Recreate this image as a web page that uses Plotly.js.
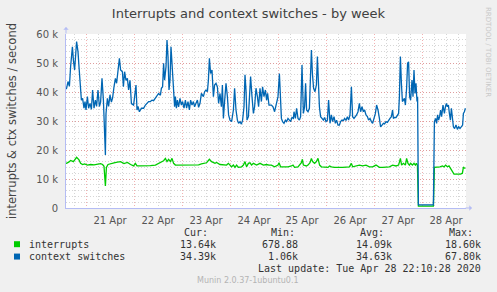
<!DOCTYPE html>
<html>
<head>
<meta charset="utf-8">
<script src="https://cdn.plot.ly/plotly-3.0.1.min.js"></script>
<style>
html,body{margin:0;padding:0;background:#F0F0F0;}
#chart{width:497px;height:292px;}
</style>
</head>
<body>
<div id="chart"></div>
<script>
// ---- DATA (hours since 2020-04-20 00:00, values in thousands per second) ----
const interruptsHours = [14.0,14.3,15.5,16.3,17.7,19.3,20.5,21.3,22.3,23.3,24.7,26.3,28,29.7,31.3,32.3,33,33.7,34.2,35,36.3,38,39.7,41.3,43,44.7,46.3,47.8,48.7,49.5,51.2,53.7,56.2,58.7,60.3,62,62.8,63.7,64.5,65.3,66.2,67,67.8,68.7,70.3,72,73.7,75.3,77,78.7,80.3,81.7,82.7,84.3,85.7,86.8,88.5,89.3,91,92.7,94.3,95.2,96.8,97.7,98.5,99.3,100.2,101.8,102.7,103.5,104.3,105.2,106,106.8,107.7,109.3,111,112.7,114.3,115.5,116.7,118.3,120,120.5,121.3,123.3,125,126.7,127.5,128.3,130,131.7,132.2,132.7,134.2,135,136,136.7,137.3,138.3,139.2,140,140.8,141.7,143.3,145,145.8,146.7,148.3,150,152.3,155.7,156.7,157.3,159,160.7,162.3,164,165.7,167.3,169,169.8,170.7,172.3,174,175.7,177.3,179,180.3,181.2,181.8,182.7,183.7,184.3,185,185.7,186.3,187.2,188,188.7,189.2,189.7,190.2,192,194,196,197.7,198.2,199.7,201,202.2,203,203.8,204.7,205.5,206.3,207.2,208,209.7,211.3,212.2,212.7,213.2,213.7];
const interruptsK = [15.5,15.4,15.9,16.4,16,17.5,16.6,15.4,15,15.2,14.8,15,14.9,15,15.3,15,14.4,7.6,14,15,15.3,15.6,15.8,16,15.3,15.7,15,14.5,15.4,14.5,14.5,14.5,14.6,14.8,15.4,16,16.3,17.1,16,16.8,16,17.1,15.4,14.8,14.8,15,14.8,14.8,15,14.8,14.9,15.2,15.4,15.6,16.8,16,15.4,15.7,15,14.8,14.8,15.4,14.2,14.8,14,14.8,14,14.2,14.8,16,14.2,15.4,15.6,14.8,15.4,14.8,15.4,14.8,15,14.8,14.8,14.2,14.8,15.6,14.2,14.2,14.2,14.5,14.8,14,14.2,15.6,16.8,14.8,14.5,14.8,15.6,17.1,16,15.4,16,17.1,14.8,14.2,14.2,14,14.5,14.2,14,13.9,14,14.2,15.4,14.2,14.5,14.8,14.5,14.8,14.2,14.2,14.8,14.5,14,14,14.2,14.2,14.8,14.5,14.8,17.1,14.8,15.4,14.8,17.1,15.4,14.8,15.4,14.8,15.4,14.8,15.4,14.8,0.68,0.68,0.68,0.68,0.68,14,14,14.2,14.5,14.2,14.8,14.2,14.5,13.7,12.5,11.7,11.7,11.7,12,14.1,13.8,13.6];

const ctxHours = [14.0,14.3,15,15.7,16.3,17.2,17.7,18.3,19.3,20,20.5,21,21.7,22.3,23,23.5,24,24.7,25.3,26,26.7,27.3,28,28.7,29.3,30,30.7,31.3,32,32.7,33.2,33.7,34,34.7,35.3,36,36.7,37.3,38,38.7,39.3,40,40.7,41.3,42.2,42.7,43.3,44,44.7,45.3,46,46.7,47.8,49,49.5,50,50.7,51.7,52.8,53.7,54.5,55.3,56.2,57,57.8,58.7,59.5,60.3,61.2,61.7,62.3,62.8,63.3,64,64.5,65,65.5,66,66.5,67,67.7,68.3,68.7,69.2,69.7,70.3,71,71.7,72.3,73,73.7,74.3,75,75.7,76.3,77,77.7,78.3,79,79.7,80.3,81,81.7,82.7,83.3,84,84.7,85.2,85.7,86.3,87,87.7,88.3,89,89.7,90.3,91,91.7,92.2,92.7,93.3,94,94.7,95.3,96,96.8,97.7,98.3,99,99.7,100.3,101,101.7,102.3,103,103.5,104,104.5,105.2,105.7,106.3,107,107.7,108.3,109,109.7,110.3,111,111.7,112.3,113,113.7,114.3,114.8,115.5,116.7,117.5,118.3,119.2,120,120.7,121.3,121.7,122.3,123,123.7,124.3,125,125.7,126.3,127,127.7,128,128.7,129.3,130,130.7,131.3,132,132.7,133.3,133.8,134.3,135,135.7,136.2,136.7,137.2,137.8,138.5,139.2,139.7,140.2,140.7,141.3,142,142.7,143.3,144,144.7,145.3,146,146.7,147.3,148,148.7,149.3,150,150.7,151.3,152,152.7,153.3,154,154.7,155.3,156,156.7,157.3,158,158.7,159.3,160,160.7,161.3,162,162.7,163.3,164,164.7,165.3,166,166.7,167.3,168,168.7,169.3,170,170.7,171.3,172,172.7,173.3,174,174.7,175.3,176,176.7,177.3,177.7,178.3,179,179.7,180.3,180.7,181.2,181.7,182.2,182.7,183.2,183.7,184.3,184.8,185.3,185.8,186.3,187,187.5,188,188.5,189,189.5,189.8,190.2,192,194,196,197.7,198.2,198.8,199.3,199.8,200.3,200.8,201.3,201.8,202.5,203.2,203.7,204.2,204.7,205.2,205.7,206.2,206.7,207.2,207.7,208.3,209,209.7,210.3,211,211.7,212.3,212.7,213.2,213.7];
const ctxK = [41,41.3,43.6,42,48.7,55.6,51,47.6,57.4,53.9,48.7,41.8,37.2,37.8,34.4,36.7,33.8,38.4,34.4,36.1,34,40.7,34.4,37.2,35,40.7,35,36.5,44.7,37.2,30,18.3,32.6,37.8,35,39,36.5,38,41.8,44.7,43,48.7,51.6,47.6,47,41.8,47,44,44.7,40.7,44,36,35.5,42.4,33.8,35,33.2,34.4,34.4,35.5,36.1,36.7,36.7,37.2,37,37.8,38.4,39.5,38.9,41.3,41.8,49.9,44.1,48.7,57.9,52.2,40.7,44.1,55.6,48.7,40.7,34.9,38.4,34.4,37.2,34.9,37.8,35.5,36.7,34.4,37.2,34.4,36.7,33.8,37.2,35.5,36.7,34.9,36.1,37.2,34.7,36.1,39.5,38.4,40.1,40.7,40.1,44.1,51.6,46.4,47.6,38.4,42.4,43,41.8,36.1,39.5,34.9,42.4,30.9,36.7,43,38.4,32.1,30.3,29.8,33.8,41.3,33.8,30.3,29.2,29.8,28.9,30.3,34.9,45.9,40.7,30.3,31.5,38.4,45.3,38.4,32.6,34.9,41.3,38.4,34.9,41.3,36.7,41.8,38.4,40.7,37.2,39.5,35.5,35.5,34.9,33.2,35.5,38.4,46.4,34.9,30.9,29.8,29.2,30.3,29.8,30.9,30.3,29.8,31.2,30.9,33.2,30.9,34.4,30.9,30.3,31.5,49.3,32.6,34.9,43,33.8,33.2,34.4,46.4,54.5,46.4,41.3,40.1,42.4,52.2,44.1,34.9,31.5,30.9,30.3,31.2,29.8,30.3,37.2,29.2,32.1,29.8,31.5,29.2,30.3,28.6,28.6,29.8,30.3,30.1,30.9,30.3,31.5,30.3,32.1,41.8,31.5,30.9,31.5,32.1,33.2,36.1,33.2,34.9,33.2,33.8,32.1,31.5,30.3,30.9,29.8,29.2,30.9,32.6,35.5,33.8,30.9,28,28.6,29.2,29,29.8,29.5,30.3,30.9,31.5,33.8,30.9,31.2,31.2,32.1,32.6,38.4,52.2,43,36.7,37.2,37.8,35.5,41.3,49.9,50.4,38.4,37.2,44.1,38.4,47.6,39.5,43,36.7,38.4,1.06,1.06,1.06,1.06,1.06,29.8,30.9,29.2,32.1,30.3,31.5,33.8,31.5,35.5,32.6,34.9,36.1,34.9,35.5,32.6,30.3,34.4,30.9,28,27.4,28.6,27.1,28,27.4,28,28.6,32.6,33.2,34.4];

const seriesNames = ['interrupts', 'context switches'];
const curText = ['13.64k', '34.39k'];
const minText = ['678.88', '1.06k'];
const avgText = ['14.09k', '34.63k'];
const maxText = ['18.60k', '67.80k'];
const yTickVals = [0, 10, 20, 30, 40, 50, 60];
const yTickText = ['0', '10 k', '20 k', '30 k', '40 k', '50 k', '60 k'];
const xRange = ['2020-04-20 14:00', '2020-04-28 22:00'];

// ---- helpers ----
const COLORS = ['#00CC00', '#0066B3'];
function hToDate(h) {
  const d = new Date(Date.UTC(2020, 3, 20) + Math.round(h * 60) * 60000);
  return d.toISOString().slice(0, 19).replace('T', ' ');
}
const W = 497, H = 292, PL = 66, PR = 466, PT = 33.5, PB = 208;
const px = v => (v - PL) / (PR - PL);
const py = v => (PB - v) / (PB - PT);
const MONO = 'DejaVu Sans Mono';
const SANS = 'DejaVu Sans';

const traces = [
  {x: interruptsHours.map(hToDate), y: interruptsK, name: seriesNames[0], type: 'scatter', mode: 'lines',
   line: {color: COLORS[0], width: 1.3}},
  {x: ctxHours.map(hToDate), y: ctxK, name: seriesNames[1], type: 'scatter', mode: 'lines',
   line: {color: COLORS[1], width: 1.3}}
];

const ann = [];
function txt(t, x, y, opts) {
  ann.push(Object.assign({text: t, xref: 'paper', yref: 'paper', x: px(x), y: py(y), showarrow: false,
    xanchor: 'left', yanchor: 'middle', font: {family: MONO, size: 10, color: '#333'}}, opts || {}));
}
// legend table header
txt('Cur:', 181.7, 233); txt('Min:', 269.3, 233); txt('Avg:', 358.3, 233); txt('Max:', 446.7, 233);
const rowY = [244.3, 256.7];
const shapes = [];
for (let i = 0; i < 2; i++) {
  shapes.push({type: 'rect', xref: 'paper', yref: 'paper', x0: px(14), x1: px(20), y0: py(rowY[i] - 3), y1: py(rowY[i] + 3),
    fillcolor: COLORS[i], line: {width: 0}});
  txt(seriesNames[i], 26.7, rowY[i]);
  txt(curText[i], 217.7, rowY[i], {xanchor: 'right'});
  txt(minText[i], 300, rowY[i], {xanchor: 'right'});
  txt(avgText[i], 394.3, rowY[i], {xanchor: 'right'});
  txt(maxText[i], 482.7, rowY[i], {xanchor: 'right'});
}
txt('Last update: Tue Apr 28 22:10:28 2020', 482.7, 269, {xanchor: 'right'});
txt('Munin 2.0.37-1ubuntu0.1', 248, 281, {xanchor: 'center', font: {family: SANS, size: 8, color: '#B4B4B4'}});
txt('RRDTOOL / TOBI OETIKER', 487.5, 51, {xanchor: 'center', textangle: 90, font: {family: SANS, size: 7, color: '#C8C8C8'}});
// axis arrows
ann.push({text: '', xref: 'paper', yref: 'paper', x: px(66), y: py(26.5), ax: 0, ay: 8, showarrow: true,
  arrowhead: 1, arrowsize: 0.9, arrowwidth: 1, arrowcolor: '#B4BCF4'});
ann.push({text: '', xref: 'paper', yref: 'paper', x: px(472), y: py(208), ax: -8, ay: 0, showarrow: true,
  arrowhead: 1, arrowsize: 0.9, arrowwidth: 1, arrowcolor: '#B4BCF4'});

const layout = {
  width: W, height: H,
  margin: {l: PL, r: W - PR, t: PT, b: H - PB, pad: 0},
  paper_bgcolor: '#F0F0F0', plot_bgcolor: '#FFFFFF',
  showlegend: false,
  title: {text: 'Interrupts and context switches - by week', x: 0.5, xref: 'container', xanchor: 'center',
    y: 1 - 13 / H, yref: 'container', yanchor: 'middle', font: {family: SANS, size: 13, color: '#404040'}},
  xaxis: {type: 'date', range: xRange, tick0: '2020-04-21', dtick: 86400000, ticklabelmode: 'period',
    tickformat: '%d %b', ticks: '', showline: true, linecolor: '#B4BCF4', linewidth: 1,
    showgrid: true, gridcolor: 'rgba(230,100,100,0.5)', griddash: '1px,2px', gridwidth: 1, zeroline: false,
    tickfont: {family: SANS, size: 10, color: '#555'}, ticklabelstandoff: 3,
    minor: {dtick: 21600000, showgrid: true, gridcolor: '#D6D6D6', griddash: '1px,2px', gridwidth: 1},
    fixedrange: true},
  yaxis: {range: [0, 60], tickvals: yTickVals, ticktext: yTickText, ticks: '', showline: true,
    linecolor: '#B4BCF4', linewidth: 1, zeroline: false,
    showgrid: true, gridcolor: 'rgba(230,100,100,0.5)', griddash: '1px,2px', gridwidth: 1,
    tickfont: {family: SANS, size: 10, color: '#555'}, ticklabelstandoff: 5,
    minor: {dtick: 2, showgrid: true, gridcolor: '#D6D6D6', griddash: '1px,2px', gridwidth: 1},
    title: {text: 'interrupts & ctx switches / second', standoff: 17, font: {family: SANS, size: 11.5, color: '#444'}},
    fixedrange: true},
  annotations: ann,
  shapes: shapes
};
Plotly.newPlot('chart', traces, layout, {displayModeBar: false, staticPlot: true});
</script>
</body>
</html>
